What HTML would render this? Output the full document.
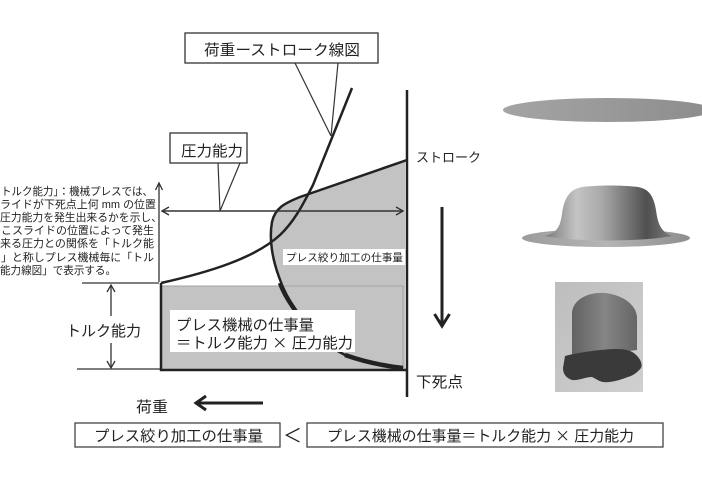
<!DOCTYPE html>
<html>
<head>
<meta charset="utf-8">
<style>
html,body{margin:0;padding:0;background:#fff;}
body{width:702px;height:479px;overflow:hidden;}
svg{display:block;}
text{font-family:"Liberation Sans","Noto Sans CJK JP",sans-serif;fill:#222;}
</style>
</head>
<body>
<svg width="702" height="479" viewBox="0 0 702 479" xmlns="http://www.w3.org/2000/svg">
<defs>
  <linearGradient id="disc" x1="0" y1="0" x2="1" y2="0">
    <stop offset="0" stop-color="#a4a4a4"/>
    <stop offset="0.5" stop-color="#999"/>
    <stop offset="1" stop-color="#8c8c8c"/>
  </linearGradient>
  <linearGradient id="dome" x1="0" y1="0" x2="1" y2="0">
    <stop offset="0" stop-color="#7a7a7a"/>
    <stop offset="0.25" stop-color="#c4c4c4"/>
    <stop offset="0.45" stop-color="#a8a8a8"/>
    <stop offset="0.8" stop-color="#505050"/>
    <stop offset="1" stop-color="#7a7a7a"/>
  </linearGradient>
  <linearGradient id="brim" x1="0" y1="0" x2="1" y2="0">
    <stop offset="0" stop-color="#9c9c9c"/>
    <stop offset="0.5" stop-color="#b5b5b5"/>
    <stop offset="1" stop-color="#8e8e8e"/>
  </linearGradient>
  <linearGradient id="photo" x1="0" y1="0" x2="1" y2="1">
    <stop offset="0" stop-color="#bdbdbd"/>
    <stop offset="1" stop-color="#d0d0d0"/>
  </linearGradient>
  <linearGradient id="body" x1="0" y1="0" x2="1" y2="0">
    <stop offset="0" stop-color="#626262"/>
    <stop offset="0.5" stop-color="#858585"/>
    <stop offset="1" stop-color="#666"/>
  </linearGradient>
</defs>

<!-- gray regions -->
<path d="M405,160 L300,197 C285,203 275,208 272,222 C269,238 272,258 279,277 C284,292 290,302 297,312 C310,330 325,345 345,355 C365,362 385,366 403,368 L405,370 Z" fill="#c3c3c3"/>
<rect x="162" y="286" width="243" height="84" fill="#c3c3c3"/>
<path d="M162,286 H403 V368" stroke="#a3a3a3" fill="none" stroke-width="1"/>

<!-- small label box -->
<rect x="283" y="249" width="122" height="16" fill="#fff"/>
<text x="286" y="261" font-size="10.5" textLength="117" lengthAdjust="spacingAndGlyphs">プレス絞り加工の仕事量</text>

<!-- curve B (gray boundary) -->
<path d="M407,160 L300,197 C285,203 275,208 272,222 C269,238 272,258 279,277 C284,292 290,302 297,312 C310,330 325,345 345,355 C365,362 385,366 403,368" fill="none" stroke="#222" stroke-width="2.5"/>
<path d="M280,283 C284,294 290,303 297,313" fill="none" stroke="#222" stroke-width="4.5"/>
<path d="M345,355 C365,362 385,366 403,368" fill="none" stroke="#222" stroke-width="4.5"/>

<!-- white box -->
<rect x="170" y="310" width="185" height="42" fill="#fff"/>
<text x="176" y="330" font-size="15" textLength="138" lengthAdjust="spacingAndGlyphs">プレス機械の仕事量</text>
<text x="176" y="348" font-size="15" textLength="177" lengthAdjust="spacingAndGlyphs">＝トルク能力 <tspan font-family="Noto Sans CJK JP, sans-serif">×</tspan> 圧力能力</text>

<!-- curve A -->
<path d="M161,283 C210,272 255,258 280,235 C296,220 305,200 313,185 L352,88" fill="none" stroke="#222" stroke-width="2.5"/>

<!-- axes & frame -->
<line x1="407" y1="90" x2="407" y2="397" stroke="#222" stroke-width="2.5"/>
<line x1="161" y1="283" x2="161" y2="371" stroke="#222" stroke-width="2.5"/>
<line x1="160" y1="370" x2="407" y2="370" stroke="#222" stroke-width="2.5"/>
<line x1="82" y1="283" x2="159" y2="283" stroke="#333" stroke-width="1.2"/>
<line x1="77" y1="369" x2="160" y2="369" stroke="#333" stroke-width="1.2"/>

<!-- load axis arrow -->
<line x1="159" y1="183" x2="159" y2="282" stroke="#333" stroke-width="1.3"/>
<polyline points="155.5,190 159,183 162.5,190" fill="none" stroke="#333" stroke-width="1.3"/>

<!-- double arrow -->
<line x1="162" y1="211" x2="403" y2="211" stroke="#333" stroke-width="1.4"/>
<polyline points="169,207 162,211 169,215" fill="none" stroke="#333" stroke-width="1.4"/>
<polyline points="396,207 403,211 396,215" fill="none" stroke="#333" stroke-width="1.4"/>

<!-- torque arrow -->
<line x1="111" y1="285" x2="111" y2="316" stroke="#333" stroke-width="1.3"/>
<polyline points="107,292 111,285 115,292" fill="none" stroke="#333" stroke-width="1.3"/>
<line x1="111" y1="343" x2="111" y2="368" stroke="#333" stroke-width="1.3"/>
<polyline points="107,361 111,368 115,361" fill="none" stroke="#333" stroke-width="1.3"/>
<text x="66" y="336" font-size="15" textLength="75" lengthAdjust="spacingAndGlyphs">トルク能力</text>

<!-- callout: 荷重ーストローク線図 -->
<line x1="295" y1="63" x2="331" y2="136" stroke="#333" stroke-width="1.2"/>
<line x1="338" y1="63" x2="331" y2="136" stroke="#333" stroke-width="1.2"/>
<rect x="185" y="33" width="193" height="30" fill="#fff" stroke="#333" stroke-width="1.3"/>
<text x="204" y="55" font-size="15" textLength="156" lengthAdjust="spacingAndGlyphs">荷重ーストローク線図</text>

<!-- callout: 圧力能力 -->
<line x1="218" y1="163" x2="220" y2="211" stroke="#333" stroke-width="1.2"/>
<line x1="240" y1="163" x2="220" y2="211" stroke="#333" stroke-width="1.2"/>
<rect x="170" y="133" width="77" height="30" fill="#fff" stroke="#333" stroke-width="1.3"/>
<text x="181" y="156" font-size="15" textLength="62" lengthAdjust="spacingAndGlyphs">圧力能力</text>

<!-- right labels & down arrow -->
<text x="416" y="162" font-size="13" textLength="65" lengthAdjust="spacingAndGlyphs">ストローク</text>
<text x="416" y="387" font-size="15" textLength="47" lengthAdjust="spacingAndGlyphs">下死点</text>
<line x1="442" y1="207" x2="442" y2="326" stroke="#222" stroke-width="3"/>
<polyline points="434.5,314 442,326 449.5,314" fill="none" stroke="#222" stroke-width="3"/>

<!-- load arrow -->
<text x="136" y="412" font-size="15" textLength="32" lengthAdjust="spacingAndGlyphs">荷重</text>
<line x1="196" y1="403" x2="263" y2="403" stroke="#222" stroke-width="3"/>
<polyline points="206,396 196,403 206,410" fill="none" stroke="#222" stroke-width="3"/>

<!-- left description text -->
<g font-size="11">
<text x="1" y="195" textLength="152" lengthAdjust="spacingAndGlyphs">トルク能力」：機械プレスでは、</text>
<text x="0" y="208" textLength="156" lengthAdjust="spacingAndGlyphs">ライドが下死点上何 mm の位置</text>
<text x="0" y="221" textLength="162" lengthAdjust="spacingAndGlyphs">圧力能力を発生出来るかを示し、</text>
<text x="1" y="234" textLength="153" lengthAdjust="spacingAndGlyphs">こスライドの位置によって発生</text>
<text x="0" y="247" textLength="154" lengthAdjust="spacingAndGlyphs">来る圧力との関係を「トルク能</text>
<text x="1" y="261" textLength="153" lengthAdjust="spacingAndGlyphs">」と称しプレス機械毎に「トル</text>
<text x="0" y="274" textLength="116" lengthAdjust="spacingAndGlyphs">能力線図」で表示する。</text>
</g>

<!-- bottom boxes -->
<rect x="75" y="423" width="205" height="24" fill="#fff" stroke="#444" stroke-width="1.3"/>
<text x="94" y="441" font-size="15" textLength="169" lengthAdjust="spacingAndGlyphs">プレス絞り加工の仕事量</text>
<text x="283" y="442" font-size="19" textLength="19" lengthAdjust="spacingAndGlyphs" font-family="Noto Sans CJK JP, sans-serif" fill="#444">＜</text>
<rect x="307" y="423" width="356" height="24" fill="#fff" stroke="#444" stroke-width="1.3"/>
<text x="327" y="441" font-size="15" textLength="307" lengthAdjust="spacingAndGlyphs">プレス機械の仕事量＝トルク能力 <tspan font-family="Noto Sans CJK JP, sans-serif">×</tspan> 圧力能力</text>

<!-- right images -->
<ellipse cx="608" cy="110" rx="105" ry="12" fill="url(#disc)"/>

<ellipse cx="606" cy="238" rx="84" ry="9" fill="url(#brim)"/>
<path d="M545,236 C556,233 560,228 562,214 C564,198 570,189 582,187 C597,185 623,185 638,187 C650,189 654,198 656,210 C658,226 662,232 672,236 C640,242 575,242 545,236 Z" fill="url(#dome)"/>

<rect x="555" y="282" width="88" height="110" fill="url(#photo)"/>
<path d="M572,312 C574,298 590,292 605,293 C622,295 636,304 637,317 L637,350 L572,358 Z" fill="url(#body)"/>
<path d="M565,356 C580,352 605,349 617,349 C626,349 632,351 635,354 C640,358 643,364 641,368 C637,373 632,376 628,377 C620,380 610,383 603,382 C598,381 595,378 592,377 C585,377 578,381 572,380 C566,378 563,374 563,368 Z" fill="#3a3a3a"/>
</svg>
</body>
</html>
